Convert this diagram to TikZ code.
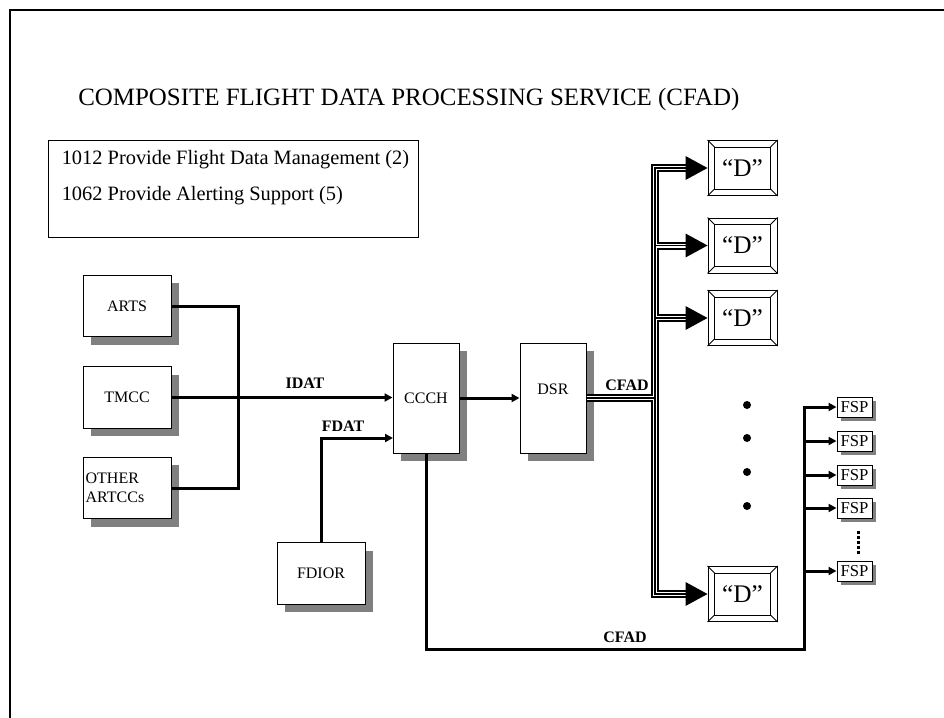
\documentclass[tikz,border=0pt]{standalone}
\usepackage{fontspec}
\setmainfont{Liberation Serif}
\usetikzlibrary{arrows.meta,shadows,calc}
\begin{document}
\begin{tikzpicture}[x=0.75pt,y=-0.75pt,
  box/.style={draw, line width=0.75pt, fill=white, inner sep=0pt,
    font=\fontsize{12}{14}\selectfont,
    drop shadow={shadow xshift=6pt, shadow yshift=-6pt, fill=black!50, opacity=1}},
  bigbox/.style={box, minimum width=66pt, minimum height=46pt},
  tallbox/.style={box, minimum width=49.5pt, minimum height=82.5pt},
  fspbox/.style={draw, line width=0.75pt, fill=white, inner sep=0pt,
    minimum width=26.25pt, minimum height=15pt, font=\fontsize{12.5}{14}\selectfont,
    drop shadow={shadow xshift=3pt, shadow yshift=-3pt, fill=black!50, opacity=1}},
  dbox/.style={draw, line width=0.75pt, fill=white, inner sep=0pt,
    minimum width=51.75pt, minimum height=41.25pt, font=\fontsize{19}{20}\selectfont},
  conn/.style={line width=2.25pt},
  arr/.style={conn, -{Triangle[length=6pt,width=6pt]}},
  lbl/.style={font=\fontsize{12}{14}\selectfont\bfseries, inner sep=0pt},
  listtext/.style={anchor=base west, inner sep=0pt, font=\fontsize{15.3}{16}\selectfont}
]
\useasboundingbox (0,0) rectangle (944,717);
\fill[white] (0,0) rectangle (944,717);
% frame
\draw[line width=1.5pt] (10,740) -- (10,10) -- (960,10);
% title
\node[anchor=base west, inner sep=0pt, font=\fontsize{18.7}{20}\selectfont] (title) at (78,105)
  {COMPOSITE FLIGHT DATA PROCESSING SERVICE (CFAD)};
% list box
\node[draw, line width=0.75pt, minimum width=277.5pt, minimum height=72.75pt, inner sep=0pt] (list) at (233,188.5) {};
\node[listtext] (l1) at ($(list.north west)+(14,25)$) {1012 Provide Flight Data Management (2)};
\node[listtext] (l2) at ($(list.north west)+(14,61)$) {1062 Provide Alerting Support (5)};
% left boxes
\node[bigbox] (arts) at (127,306) {ARTS};
\node[bigbox] (tmcc) at (127,397.5) {TMCC};
\node[bigbox, align=left, text width=62pt] (other) at (127,488) {OTHER\\ARTCCs};
\node[bigbox] (fdior) at (321,573.5) {FDIOR};
\node[tallbox] (ccch) at (426,398) {CCCH};
\node[tallbox] (dsr) at (553,398) {\raisebox{2.75pt}[0pt][0pt]{DSR}};
% D boxes
\node[dbox] (d1) at (742.5,168) {“D”};
\node[dbox] (d2) at (742.5,245.5) {“D”};
\node[dbox] (d3) at (742.5,318) {“D”};
\node[dbox] (d4) at (742.5,594) {“D”};
\foreach \n in {d1,d2,d3,d4}{
  \draw[line width=0.6pt] ($(\n.north west)+(7,7)$) rectangle ($(\n.south east)+(-7,-7)$);
  \draw[line width=0.6pt] (\n.north west) -- ++(7,7) (\n.north east) -- ++(-7,7)
    (\n.south west) -- ++(7,-7) (\n.south east) -- ++(-7,-7);
}
% FSP boxes
\node[fspbox] (fsp1) at (854.5,407) {FSP};
\node[fspbox] (fsp2) at (854.5,441) {FSP};
\node[fspbox] (fsp3) at (854.5,475) {FSP};
\node[fspbox] (fsp4) at (854.5,508) {FSP};
\node[fspbox] (fsp5) at (854.5,571) {FSP};
\draw[line width=2.25pt, dash pattern=on 2.25pt off 1.5pt]
  ($(fsp4.south)+(3.5,12)$) -- ($(fsp5.north)+(3.5,-6)$);
% dots
\foreach \y in {405,438,472,506} \fill (747,\y) circle[radius=4];
% left connectors
\coordinate (jx) at (238,306);
\draw[conn] (arts.east) -- (arts.east -| jx) -- (other.east -| jx) -- (other.east);
\draw[arr] (tmcc.east) -- (tmcc.east -| ccch.west);
\node[lbl] at (305,383) {IDAT};
\coordinate (fin) at (393,438);
\draw[arr] (fdior.north) |- (fin);
\node[lbl] at (343,426) {FDAT};
\draw[arr] (ccch.east) -- (dsr.west);
% CCCH to FSP bus
\coordinate (fb) at (804,649);
\draw[arr] (ccch.south) |- (fb) |- (fsp1.west);
\foreach \i in {2,3,4,5} \draw[arr] (fsp\i.west -| fb) -- (fsp\i.west);
\node[lbl] at (625,637) {CFAD};
% triple-line bus to D boxes
\coordinate (bx) at (655,398);
\foreach \i in {1,2,3,4} \coordinate (a\i) at ($(d\i.west)+(-20,0)$);
\foreach \w/\c in {6pt/black,3pt/white,0.9pt/black}{
  \draw[line width=\w, draw=\c, line join=miter]
    (a1) -- (d1.west -| bx) -- (d4.west -| bx) -- (a4)
    (d2.west -| bx) -- (a2) (d3.west -| bx) -- (a3)
    (dsr.east) -- (bx);
}
\foreach \i in {1,2,3,4} \fill (d\i.west) -- ++(-22,-12) -- ++(0,24) -- cycle;
\node[lbl] at (627,385) {CFAD};
\end{tikzpicture}
\end{document}
